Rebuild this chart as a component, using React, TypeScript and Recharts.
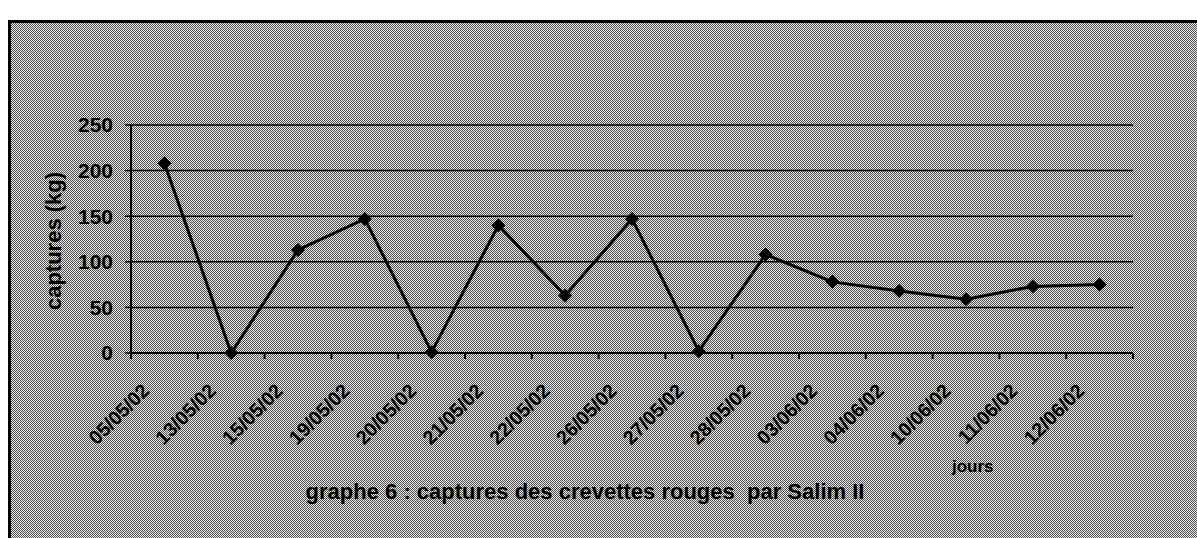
import React from 'react';
import { LineChart, Line, XAxis, YAxis, CartesianGrid } from 'recharts';

// days (category labels) and catches in kg
const jours = [
  '05/05/02', '13/05/02', '15/05/02', '19/05/02', '20/05/02',
  '21/05/02', '22/05/02', '26/05/02', '27/05/02', '28/05/02',
  '03/06/02', '04/06/02', '10/06/02', '11/06/02', '12/06/02',
];
const captures = [208, 0, 113, 147, 1, 140, 63, 147, 2, 108, 78, 68, 59, 73, 75];
const yTicks = [0, 50, 100, 150, 200, 250];

const data = jours.map((j, i) => ({ jour: j, captures: captures[i] }));

const FONT = '"Liberation Sans", Arial, sans-serif';
const BAND = 1002 / jours.length;

// 2x2 dither tile, like the scanned grey fill
const DITHER =
  "url(\"data:image/svg+xml;utf8,<svg xmlns='http://www.w3.org/2000/svg' width='2' height='2' shape-rendering='crispEdges'>" +
  "<rect width='2' height='2' fill='%23e8e8e8'/><rect width='1' height='1' fill='%23505050'/>" +
  "<rect x='1' y='1' width='1' height='1' fill='%23505050'/></svg>\")";

const DayTick = (props: any) => {
  const { x, y, payload, index } = props;
  const tx = x - 14;
  const ty = y + 39;
  return (
    <g>
      <line x1={x - BAND / 2} y1={y} x2={x - BAND / 2} y2={y + 6} stroke="#000" strokeWidth={2} />
      {index === jours.length - 1 && (
        <line x1={x + BAND / 2} y1={y} x2={x + BAND / 2} y2={y + 6} stroke="#000" strokeWidth={2} />
      )}
      <text
        x={tx}
        y={ty}
        transform={`rotate(-45, ${tx}, ${ty})`}
        textAnchor="end"
        fontFamily={FONT}
        fontWeight="bold"
        fontSize={19.5}
        fill="#000"
      >
        {payload.value}
      </text>
    </g>
  );
};

const Diamond = (props: any) => {
  const { cx, cy } = props;
  if (cx == null || cy == null) return null;
  const r = 7;
  return (
    <polygon
      points={`${cx},${cy - r} ${cx + r},${cy} ${cx},${cy + r} ${cx - r},${cy}`}
      fill="#000"
    />
  );
};

export default function App() {
  return (
    <div>
      <style>{`body{margin:0;overflow:hidden;}`}</style>
      <div style={styles.frame}>
        <LineChart
          width={1186}
          height={515}
          data={data}
          margin={{ top: 102, right: 64, bottom: 155, left: 60 }}
        >
          <CartesianGrid vertical={false} stroke="#000" strokeWidth={1.5} />
          <XAxis
            dataKey="jour"
            height={30}
            padding={{ left: BAND / 2, right: BAND / 2 }}
            interval={0}
            tickLine={false}
            tickSize={0}
            tickMargin={0}
            tick={<DayTick />}
            axisLine={{ stroke: '#000', strokeWidth: 2 }}
          />
          <YAxis
            width={60}
            domain={[0, 250]}
            ticks={yTicks}
            interval={0}
            tickSize={6}
            tickMargin={12}
            tickLine={{ stroke: '#000', strokeWidth: 1.5 }}
            axisLine={{ stroke: '#000', strokeWidth: 2 }}
            tick={{ fill: '#000', fontSize: 21, fontWeight: 'bold', fontFamily: FONT }}
          />
          <Line
            type="linear"
            dataKey="captures"
            stroke="#000"
            strokeWidth={3}
            dot={<Diamond />}
            activeDot={false}
            isAnimationActive={false}
          />
        </LineChart>
        <div style={styles.yLabel}>captures (kg)</div>
        <div style={styles.jours}>jours</div>
        <div style={styles.title}>graphe 6 : captures des crevettes rouges&nbsp; par Salim II</div>
      </div>
    </div>
  );
}

const styles = {
  frame: {
    position: 'absolute',
    left: 8,
    top: 20,
    width: 1189,
    height: 518,
    boxSizing: 'border-box',
    borderLeft: '3px solid #000',
    borderTop: '3px solid #000',
    backgroundColor: '#9c9c9c',
    backgroundImage: DITHER,
    backgroundSize: '2px 2px',
  } as React.CSSProperties,
  yLabel: {
    position: 'absolute',
    left: 43 - 100,
    top: 218 - 13,
    width: 200,
    textAlign: 'center' as const,
    transform: 'rotate(-90deg)',
    fontFamily: FONT,
    fontWeight: 'bold',
    fontSize: 22,
    lineHeight: '26px',
    color: '#000',
  } as React.CSSProperties,
  jours: {
    position: 'absolute',
    left: 941,
    top: 434,
    fontFamily: FONT,
    fontWeight: 'bold',
    fontSize: 17,
    color: '#000',
  } as React.CSSProperties,
  title: {
    position: 'absolute',
    left: 0,
    width: 1148,
    top: 456,
    textAlign: 'center' as const,
    fontFamily: FONT,
    fontWeight: 'bold',
    fontSize: 22,
    color: '#000',
  } as React.CSSProperties,
};
